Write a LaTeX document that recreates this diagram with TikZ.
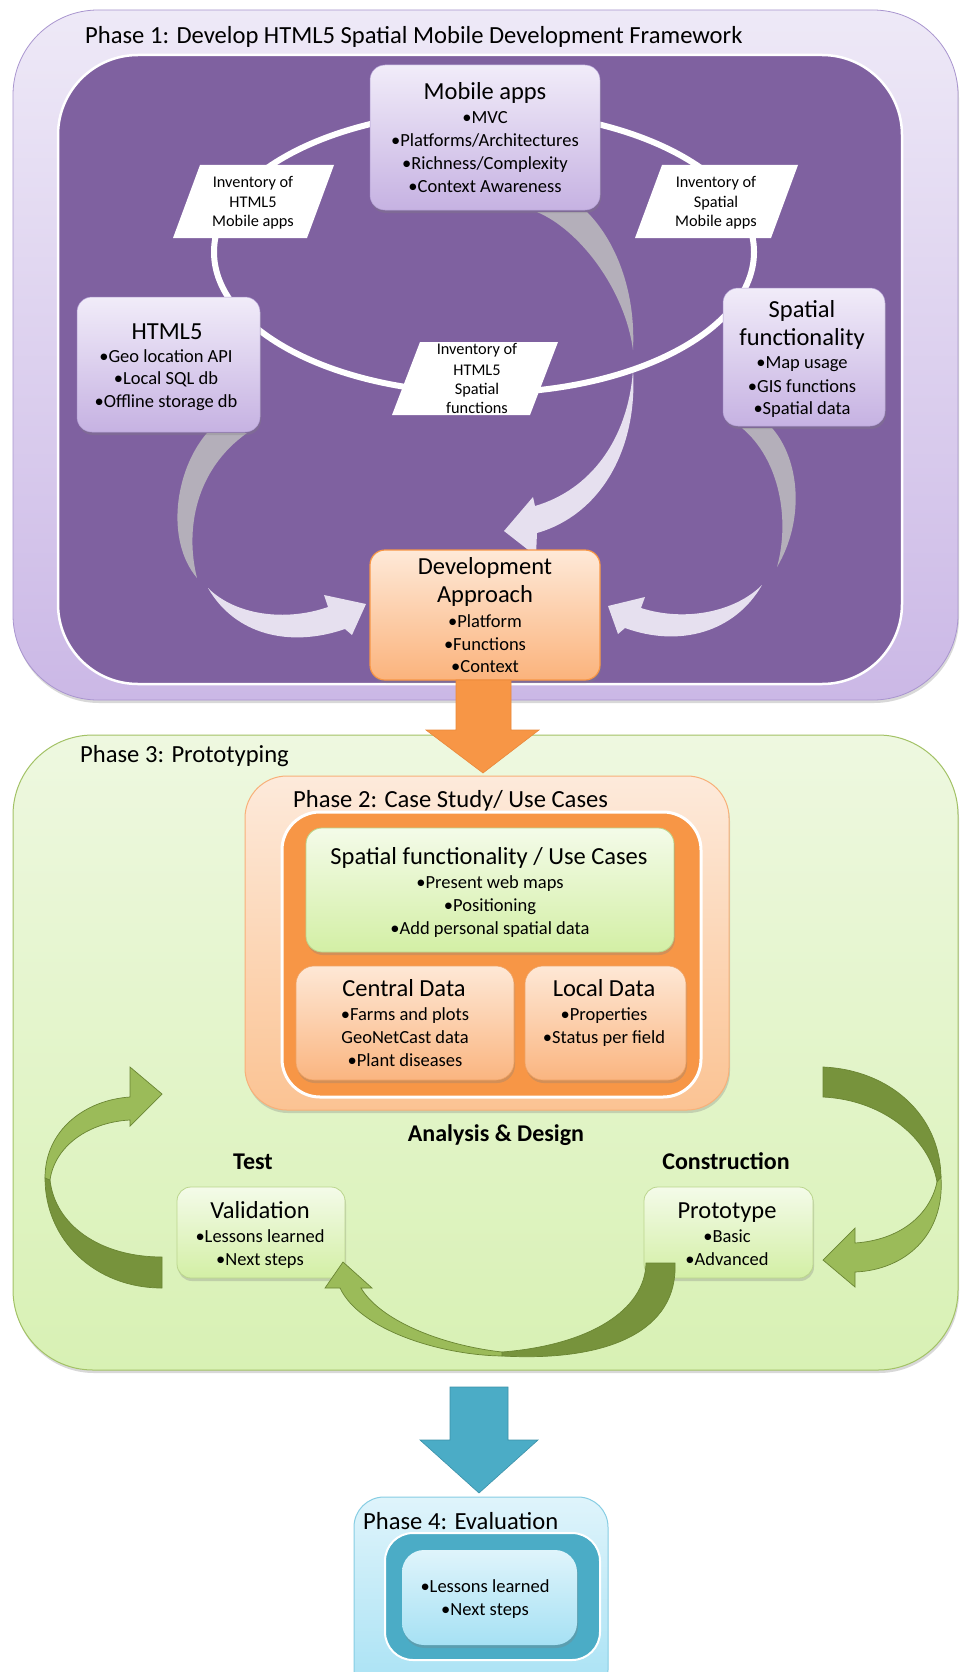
\documentclass[tikz,border=0pt]{standalone}
\usepackage{fontspec}
\setmainfont{Carlito}
\usetikzlibrary{shadows}
\definecolor{pAtop}{HTML}{EEE9F7}
\definecolor{pAbot}{HTML}{CBB8E6}
\definecolor{pAline}{HTML}{A995CF}
\definecolor{plumA}{HTML}{7F61A0}
\definecolor{lavtop}{HTML}{F1ECF9}
\definecolor{lavbot}{HTML}{C6B2E2}
\definecolor{lavline}{HTML}{B3A0D4}
\definecolor{arrgray}{HTML}{B4AFBA}
\definecolor{arrlight}{HTML}{E6E0EF}
\definecolor{ortop}{HTML}{FEE9D8}
\definecolor{orbot}{HTML}{FBB37C}
\definecolor{orfill}{HTML}{F79646}
\definecolor{orline}{HTML}{E9883A}
\definecolor{gtop}{HTML}{EEF8E0}
\definecolor{gbot}{HTML}{D8F1B4}
\definecolor{gline}{HTML}{A3C266}
\definecolor{pchtop}{HTML}{FDEADB}
\definecolor{pchbot}{HTML}{FBC393}
\definecolor{pchline}{HTML}{F8B079}
\definecolor{cdtop}{HTML}{FEE8D6}
\definecolor{cdbot}{HTML}{FAB580}
\definecolor{cdline}{HTML}{EFA263}
\definecolor{lgtop}{HTML}{F4FBE9}
\definecolor{lgbot}{HTML}{D3EFA5}
\definecolor{lgline}{HTML}{BBD58D}
\definecolor{gdarkc}{HTML}{77933C}
\definecolor{glightc}{HTML}{9BBB59}
\definecolor{gedge}{HTML}{6A8533}
\definecolor{bluec}{HTML}{4BACC6}
\definecolor{blueline}{HTML}{3C91A9}
\definecolor{btop}{HTML}{DFF4FB}
\definecolor{bbot}{HTML}{A6E1F4}
\definecolor{bline}{HTML}{86CDE3}
\begin{document}
\begin{tikzpicture}[x=1pt,y=-1pt,
  box/.style={rectangle, inner sep=0pt, outer sep=0pt},
  shd/.style={drop shadow={opacity=0.3, shadow xshift=1pt, shadow yshift=-3pt}},
  lav/.style={box, shd, rounded corners=15pt, top color=lavtop, bottom color=lavbot, draw=lavline, line width=0.5pt},
  orbox/.style={box, shd, rounded corners=15pt, top color=ortop, bottom color=orbot, draw=orfill, line width=1.2pt},
  pch/.style={box, shd, rounded corners=18pt, top color=cdtop, bottom color=cdbot, draw=cdline, line width=0.6pt},
  lgreen/.style={box, shd, rounded corners=16pt, top color=lgtop, bottom color=lgbot, draw=lgline, line width=0.8pt},
  inv/.style={fill=white, draw=none},
  ttl/.style={anchor=base, inner sep=0pt, font=\fontsize{24.5}{28}\selectfont},
  bul/.style={anchor=base, inner sep=0pt, font=\fontsize{18.5}{22}\selectfont},
  invt/.style={anchor=base, inner sep=0pt, font=\fontsize{16.3}{19}\selectfont},
  phasettl/.style={anchor=base west, inner sep=0pt, font=\fontsize{24.6}{28}\selectfont},
  boldt/.style={anchor=base, inner sep=0pt, font=\fontsize{24}{28}\selectfont\bfseries},
  grayarr/.style={fill=arrgray},
  lightarr/.style={fill=arrlight},
  gdark/.style={fill=gdarkc, draw=gedge, line width=0.7pt},
  glight/.style={fill=glightc, draw=gedge, line width=0.7pt}]
\useasboundingbox (0,0) rectangle (960,1672);
\clip (0,0) rectangle (960,1672);
\fill[white] (0,0) rectangle (960,1672);

% ---------------- Phase 1 ----------------
\node[box, shd, rounded corners=85pt, top color=pAtop, bottom color=pAbot, draw=pAline, line width=0.8pt,
  minimum width=945pt, minimum height=690pt] (p1) at (485.5,355) {};
\node[box, rounded corners=80pt, fill=plumA, draw=white, line width=2.5pt,
  minimum width=844pt, minimum height=629pt] (p1in) at (480,369.5) {};
\node[phasettl] (p1t) at (85,43.5) {Phase 1: Develop HTML5 Spatial Mobile Development Framework};

\draw[white, line width=6pt] (484,252) ellipse [x radius=270, y radius=141];

% inventory parallelograms
\fill[inv] (200,165) -- (334,165) -- (307,238) -- (173,238) -- cycle;
\fill[inv] (662,165) -- (798,165) -- (771,238) -- (635,238) -- cycle;
\fill[inv] (420,342) -- (558,342) -- (530,415) -- (392,415) -- cycle;
\node[invt] (iv1a) at (253,187.5) {Inventory of};
\node[invt] (iv1b) at (253,207.5) {HTML5};
\node[invt] (iv1c) at (253,226.5) {Mobile apps};
\node[invt] (iv2a) at (716,187.5) {Inventory of};
\node[invt] (iv2b) at (716,207.5) {Spatial};
\node[invt] (iv2c) at (716,226.5) {Mobile apps};
\node[invt] (iv3a) at (477,354.5) {Inventory of};
\node[invt] (iv3b) at (477,375) {HTML5};
\node[invt] (iv3c) at (477,394.5) {Spatial};
\node[invt] (iv3d) at (477,413) {functions};

% gray arrow tails
\fill[grayarr] (537,212) .. controls (580,230) and (625,290) .. (633,350) .. controls (636,290) and (615,240) .. (587,212) -- cycle;
\fill[grayarr] (207,433) .. controls (175,470) and (165,540) .. (197,578) .. controls (185,530) and (195,470) .. (247,433) -- cycle;
\fill[grayarr] (742,428) .. controls (780,460) and (790,520) .. (777,567) .. controls (805,520) and (800,460) .. (772,428) -- cycle;
% light arrow heads
\fill[lightarr] (633,370) .. controls (628,440) and (590,490) .. (535,506) -- (533,497) -- (504,531) -- (536,556) -- (537,533) .. controls (600,515) and (638,450) .. (633,370) -- cycle;
\fill[lightarr] (208,588) .. controls (235,615) and (285,622) .. (328,607) -- (324,595) -- (366,604) -- (352,635) -- (345,629) .. controls (290,648) and (235,635) .. (208,588) -- cycle;
\fill[lightarr] (762,585) .. controls (735,612) and (685,622) .. (641,608) -- (645,597) -- (608,606) -- (618,634) -- (625,628) .. controls (680,648) and (735,632) .. (762,585) -- cycle;

% boxes
\node[lav, minimum width=230pt, minimum height=145pt] (mob) at (485,137.5) {};
\node[ttl] (mobt) at (485,100) {Mobile apps};
\node[bul] (mob1) at (485,123.5) {•MVC};
\node[bul] (mob2) at (485,146.5) {•Platforms/Architectures};
\node[bul] (mob3) at (485,169.5) {•Richness/Complexity};
\node[bul] (mob4) at (485,192.5) {•Context Awareness};

\node[lav, minimum width=183pt, minimum height=135pt] (html) at (168.5,364.5) {};
\node[ttl] (htmlt) at (167,339) {HTML5};
\node[bul] (html1) at (166,362.5) {•Geo location API};
\node[bul] (html2) at (166,384.5) {•Local SQL db};
\node[bul] (html3) at (166,407.5) {•Offline storage db};

\node[lav, minimum width=162pt, minimum height=138pt] (spa) at (804,357) {};
\node[ttl] (spat1) at (802,317) {Spatial};
\node[ttl] (spat2) at (802,345) {functionality};
\node[bul] (spa1) at (802,368.5) {•Map usage};
\node[bul] (spa2) at (802,392.5) {•GIS functions};
\node[bul] (spa3) at (802,414.5) {•Spatial data};

\node[orbox, minimum width=230pt, minimum height=130pt] (dev) at (485,615) {};
\node[ttl] (devt1) at (485,574) {Development};
\node[ttl] (devt2) at (485,602) {Approach};
\node[bul] (dev1) at (485,627.5) {•Platform};
\node[bul] (dev2) at (485,650.5) {•Functions};
\node[bul] (dev3) at (485,672.5) {•Context};

% ---------------- Phase 3 ----------------
\node[box, shd, rounded corners=80pt, top color=gtop, bottom color=gbot, draw=gline, line width=1pt,
  minimum width=945pt, minimum height=635pt] (p3) at (485.5,1052.5) {};
\node[phasettl] (p3t) at (80,762.5) {Phase 3: Prototyping};

% orange block arrow
\fill[orfill, draw=orline, line width=0.6pt] (456,680) -- (511,680) -- (511,730) -- (539,730) -- (483,773) -- (426,730) -- (456,730) -- cycle;

% Phase 2
\node[box, shd, rounded corners=42pt, top color=pchtop, bottom color=pchbot, draw=pchline, line width=1pt,
  minimum width=484pt, minimum height=334pt] (p2) at (487,943) {};
\node[phasettl] (p2t) at (293,807.5) {Phase 2: Case Study/ Use Cases};
\node[box, rounded corners=38pt, fill=orfill, draw=white, line width=3pt,
  minimum width=419pt, minimum height=285pt] (p2in) at (491.5,954.5) {};
\node[lgreen, minimum width=368pt, minimum height=124pt] (suc) at (490,890) {};
\node[ttl] (suct) at (489,864) {Spatial functionality / Use Cases};
\node[bul] (suc1) at (490,888) {•Present web maps};
\node[bul] (suc2) at (490,911) {•Positioning};
\node[bul] (suc3) at (490,934) {•Add personal spatial data};
\node[pch, minimum width=218pt, minimum height=114pt] (cen) at (405,1023) {};
\node[ttl] (cent) at (404,996) {Central Data};
\node[bul] (cen1) at (405,1020) {•Farms and plots};
\node[bul] (cen2) at (405,1043.5) {GeoNetCast data};
\node[bul] (cen3) at (405,1066) {•Plant diseases};
\node[pch, minimum width=161pt, minimum height=114pt] (loc) at (605.5,1023) {};
\node[ttl] (loct) at (604,996) {Local Data};
\node[bul] (loc1) at (604,1020) {•Properties};
\node[bul] (loc2) at (604,1043.5) {•Status per field};

\node[boldt] (ad) at (496,1141) {Analysis \& Design};
\node[boldt] (test) at (253,1169) {Test};
\node[boldt] (cons) at (726,1169) {Construction};

\node[lgreen, rounded corners=14pt, minimum width=168pt, minimum height=91pt] (val) at (261,1232.5) {};
\node[ttl] (valt) at (260,1218) {Validation};
\node[bul] (val1) at (260,1242.5) {•Lessons learned};
\node[bul] (val2) at (260,1265.5) {•Next steps};
\node[lgreen, rounded corners=14pt, minimum width=169pt, minimum height=91pt] (pro) at (728.5,1232.5) {};
\node[ttl] (prot) at (727,1218) {Prototype};
\node[bul] (pro1) at (727,1242.5) {•Basic};
\node[bul] (pro2) at (727,1265.5) {•Advanced};

% green cycle arrows
\fill[gdark] (162,1288) .. controls (95,1288) and (45,1240) .. (45,1178) -- (50,1180) .. controls (55,1225) and (100,1257) .. (162,1257) -- cycle;
\fill[glight] (45,1178) .. controls (45,1130) and (85,1100) .. (130,1097) -- (130,1067) -- (162,1094) -- (130,1126) -- (130,1120) .. controls (90,1122) and (55,1145) .. (50,1180) -- cycle;
\fill[gdark] (823,1067) .. controls (890,1070) and (940,1115) .. (941,1177) -- (937,1182) .. controls (930,1140) and (885,1100) .. (823,1097) -- cycle;
\fill[glight] (941,1177) .. controls (945,1235) and (905,1270) .. (855,1272) -- (855,1287) -- (823,1260) -- (855,1228) -- (855,1243) .. controls (900,1240) and (930,1215) .. (937,1182) -- cycle;
\fill[gdark] (646,1263) -- (675,1263) .. controls (678,1330) and (610,1362) .. (502,1356) -- (502,1352) .. controls (590,1345) and (645,1310) .. (646,1263) -- cycle;
\fill[glight] (502,1356) .. controls (440,1355) and (360,1330) .. (340,1288) -- (325,1288) -- (343,1262) -- (372,1288) -- (361,1288) .. controls (380,1320) and (440,1345) .. (502,1352) -- cycle;

% blue block arrow
\fill[bluec, draw=blueline, line width=0.6pt] (450,1387) -- (508,1387) -- (508,1440) -- (538,1440) -- (479,1493) -- (420,1440) -- (450,1440) -- cycle;

% ---------------- Phase 4 ----------------
\node[box, rounded corners=30pt, top color=btop, bottom color=bbot, draw=bline, line width=1pt,
  minimum width=254pt, minimum height=203pt] (p4) at (481,1598.5) {};
\node[phasettl] (p4t) at (363,1529) {Phase 4: Evaluation};
\node[box, rounded corners=28pt, fill=bluec, draw=white, line width=2pt,
  minimum width=215pt, minimum height=127pt] (p4in) at (492.5,1596.5) {};
\node[box, shd, rounded corners=22pt, top color=btop, bottom color=bbot,
  minimum width=175pt, minimum height=95pt] (p4box) at (489.5,1597.5) {};
\node[bul] (p4a) at (485,1592.5) {•Lessons learned};
\node[bul] (p4b) at (485,1615) {•Next steps};
\end{tikzpicture}
\end{document}
